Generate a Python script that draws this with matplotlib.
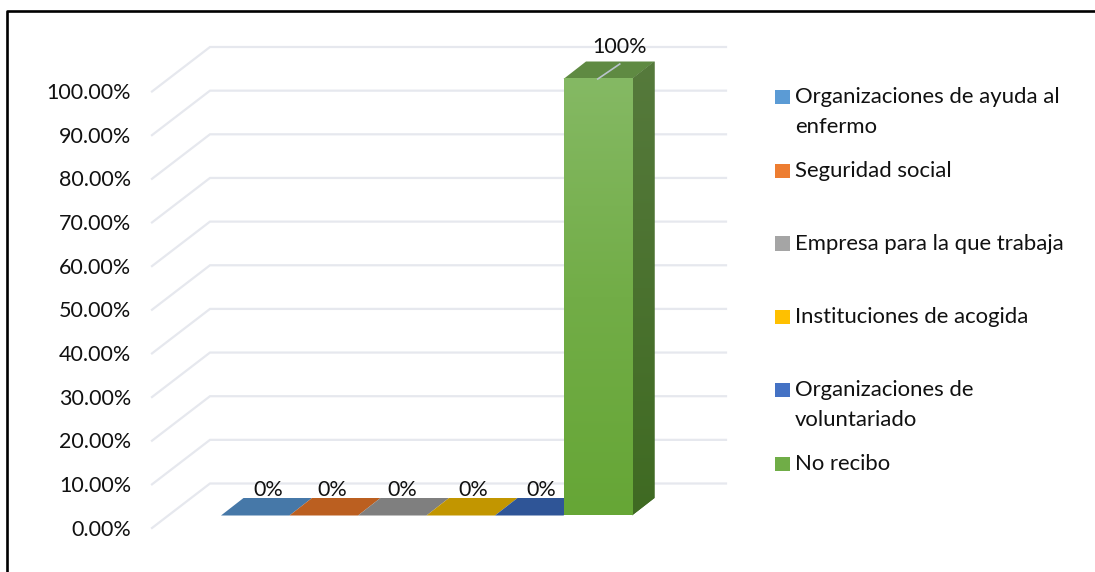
import numpy as np
import matplotlib
matplotlib.use('Agg')
import matplotlib.pyplot as plt
from matplotlib.patches import Polygon, Rectangle
from matplotlib.colors import LinearSegmentedColormap

categories = ['Organizaciones de ayuda al\nenfermo', 'Seguridad social',
              'Empresa para la que trabaja', 'Instituciones de acogida',
              'Organizaciones de\nvoluntariado', 'No recibo']
values = [0, 0, 0, 0, 0, 100]
labels = ['0%', '0%', '0%', '0%', '0%', '100%']
ticks = [0, 10, 20, 30, 40, 50, 60, 70, 80, 90, 100]
colors = ['#4678a8', '#bb5f20', '#7f7f7f', '#c29600', '#2f5597', '#6aa83a']
legend_colors = ['#5b9bd5', '#ed7d31', '#a5a5a5', '#ffc000', '#4472c4', '#70ad47']

W, H = 1095, 572
FS = 15.5
FS_LEG = 15.9
plt.rcParams['font.family'] = ['Lato', 'DejaVu Sans']

fig = plt.figure(figsize=(W/100, H/100), dpi=100)

# full figure axes, scaled so bars run x=221..632 px and value 0..100 is y=515.5..79 px
bar_w = 68.5
px_x = 1/bar_w
px_y = 100/436.5
ax = fig.add_axes([0, 0, 1, 1])
ax.set_xlim(-221*px_x, (W-221)*px_x)
ax.set_ylim((515.5-H)*px_y, 515.5*px_y)
ax.axis('off')

# wall and floor grid
grid_col = '#e6e8ee'
for t in ticks:
    y_front = t + (515.5-528)*px_y
    y_back = t + (515.5-483.5)*px_y
    x0 = (152-221)*px_x
    x1 = (210-221)*px_x
    x2 = (726-221)*px_x
    ax.plot([x0, x1, x2], [y_front, y_back, y_back], color=grid_col, lw=1.6,
            zorder=1, solid_joinstyle='miter')
    ax.text((131-221)*px_x, y_front - 1.5*px_y, '%.2f%%' % t, ha='right', va='center',
            fontsize=FS, color='#111111')

dx = 22.5*px_x
dy = 17.5*px_y

for i, v in enumerate(values):
    if v == 0:
        ax.add_patch(Polygon([(i, 0), (i+1, 0), (i+1+dx, dy), (i+dx, dy)],
                             fc=colors[i], ec='none', zorder=2+i*0.1))
    else:
        front = LinearSegmentedColormap.from_list('f', ['#85b964', '#72ad47', '#66a636'])
        side = LinearSegmentedColormap.from_list('s', ['#567a3c', '#3f6a22'])
        grad = np.linspace(0, 1, 256).reshape(-1, 1)
        ax.add_patch(Polygon([(i, v), (i+1, v), (i+1+dx, v+dy), (i+dx, v+dy)],
                             fc='#5f8a42', ec='none', zorder=3))
        sp = Polygon([(i+1, 0), (i+1+dx, dy), (i+1+dx, v+dy), (i+1, v)],
                     fc='#4a7030', ec='none', zorder=3)
        ax.add_patch(sp)
        im = ax.imshow(grad, cmap=side, extent=(i+1, i+1+dx, 0, v+dy), aspect='auto', zorder=3.1)
        im.set_clip_path(sp)
        ax.imshow(grad, cmap=front, extent=(i, i+1, 0, v), aspect='auto', zorder=3.2)
ax.set_xlim(-221*px_x, (W-221)*px_x)
ax.set_ylim((515.5-H)*px_y, 515.5*px_y)

# data labels, excel left them a bit off the bar centres
label_x = [268, 332, 402, 473, 541, 620]
for i, (v, lab) in enumerate(zip(values, labels)):
    lx = (label_x[i]-221)*px_x
    if v == 0:
        ax.text(lx, (515.5-490)*px_y, lab, ha='center', va='center', fontsize=FS,
                color='#111111', zorder=5)
    else:
        ax.plot([i+0.5, i+0.5+22*px_x], [v, v+15*px_y], color='#b9c4cc', lw=1.2, zorder=4)
        ax.text(lx, (515.5-47)*px_y, lab, ha='center', va='center', fontsize=FS,
                color='#111111', zorder=5)

# legend placed by hand, entries have an even pitch of about 73 px
leg_y = [97, 171, 244, 317, 390, 464]
for name, c, y in zip(categories, legend_colors, leg_y):
    fig.add_artist(Rectangle((775/W, 1-(y+7)/H), 15/W, 14.5/H, fc=c, ec='none',
                             transform=fig.transFigure))
    for k, line in enumerate(name.split('\n')):
        fig.text(795/W, 1-(y+30*k)/H, line, ha='left', va='center', fontsize=FS_LEG,
                 color='#111111')

# outer frame, only top and left show in the crop
fig.add_artist(plt.Line2D([7/W, 7/W, 1], [0, 1-10.5/H, 1-10.5/H],
                          color='black', lw=1.9, transform=fig.transFigure))

fig.savefig('out.png', dpi=100)
